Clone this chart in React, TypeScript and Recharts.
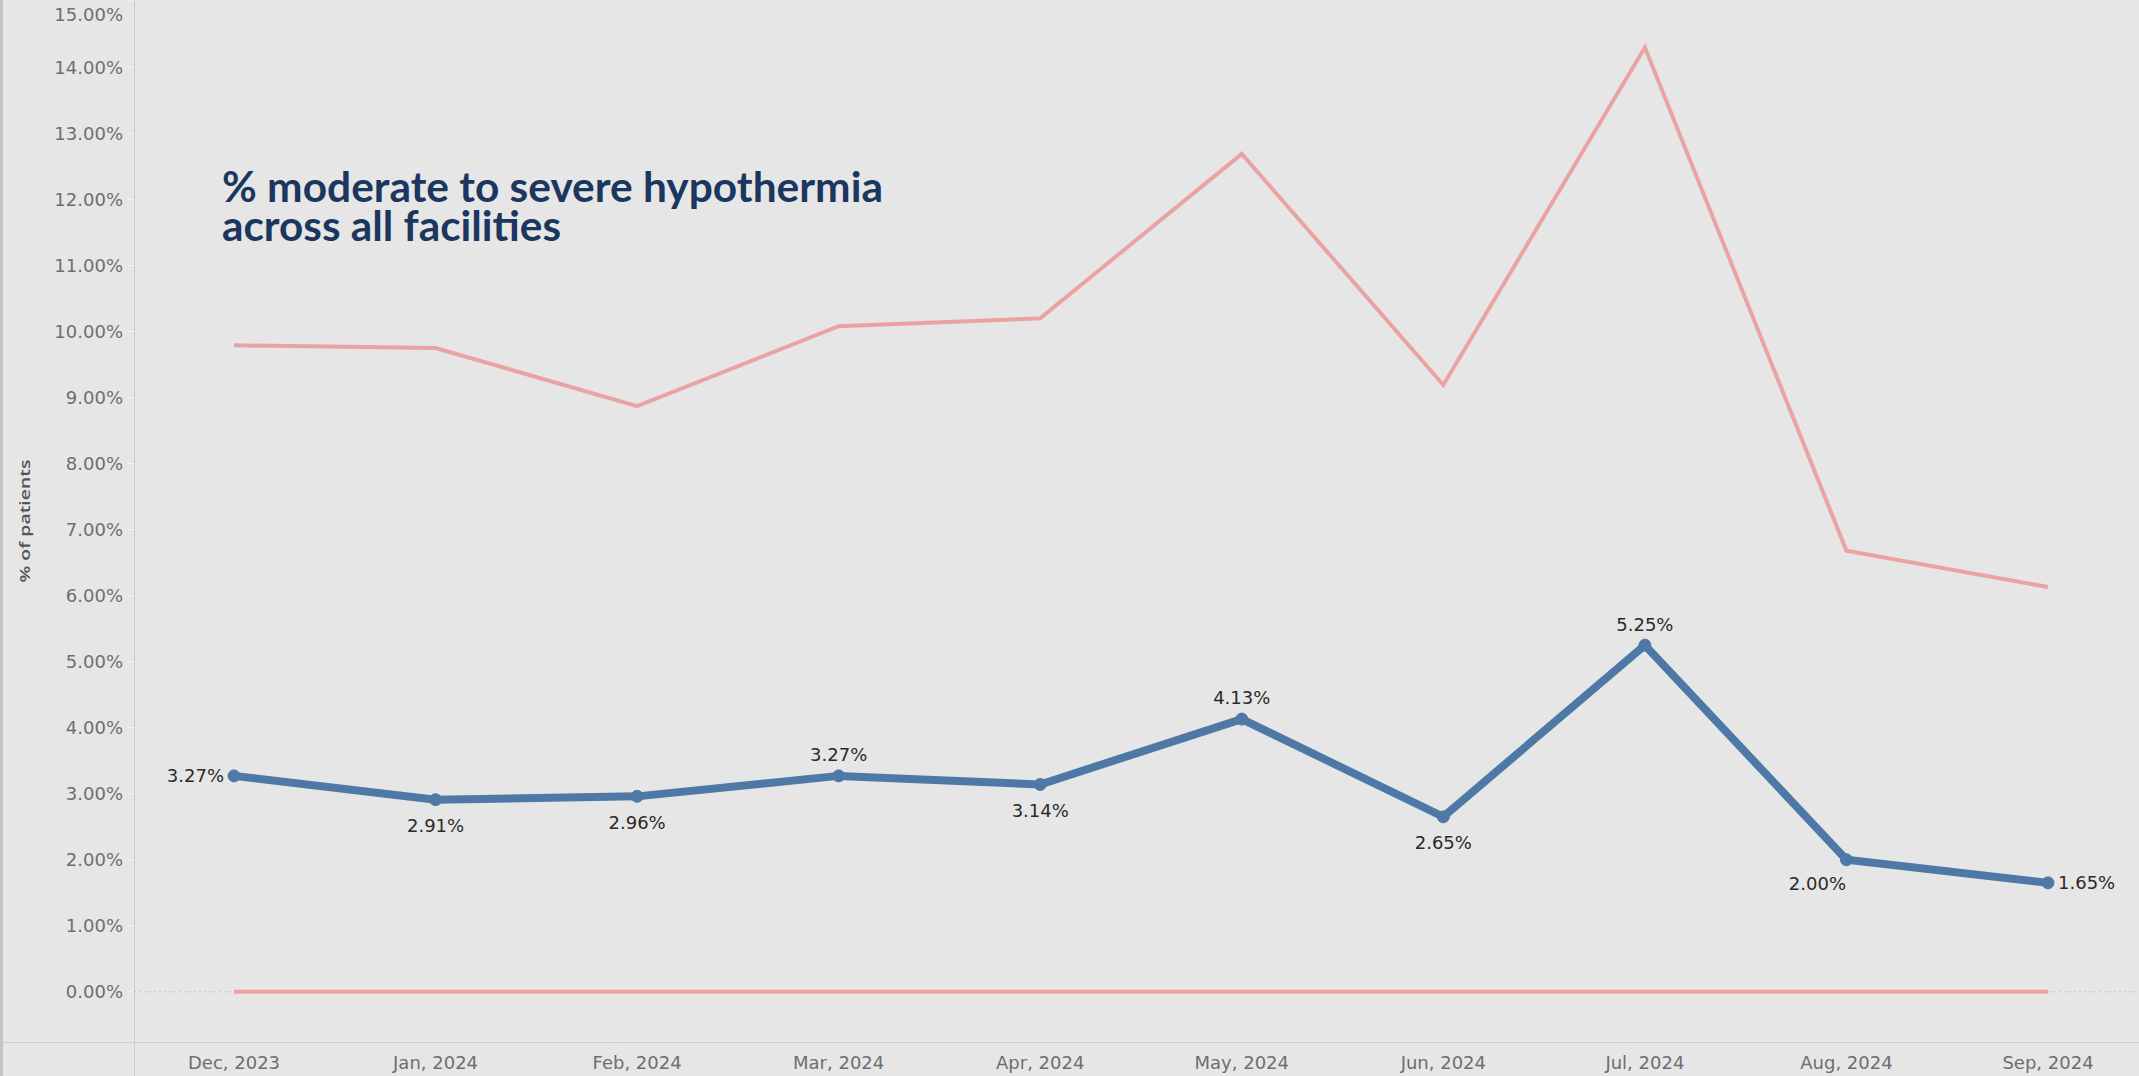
import React from 'react';
import { LineChart, Line, XAxis, YAxis, ReferenceLine, LabelList } from 'recharts';

const months = ['Dec, 2023', 'Jan, 2024', 'Feb, 2024', 'Mar, 2024', 'Apr, 2024', 'May, 2024', 'Jun, 2024', 'Jul, 2024', 'Aug, 2024', 'Sep, 2024'];
const avgPct = [3.27, 2.91, 2.96, 3.27, 3.14, 4.13, 2.65, 5.25, 2.0, 1.65];
const maxPct = [9.79, 9.75, 8.87, 10.08, 10.2, 12.69, 9.19, 14.3, 6.68, 6.13];
const minPct = [0, 0, 0, 0, 0, 0, 0, 0, 0, 0];
const yTicks = [0, 1, 2, 3, 4, 5, 6, 7, 8, 9, 10, 11, 12, 13, 14, 15];
const labelPlacement = ['left', 'below', 'below', 'above', 'below', 'above', 'below', 'above', 'belowLeft', 'right'];

const data = months.map((m, i) => ({ month: m, avg: avgPct[i], max: maxPct[i], min: minPct[i] }));

const BG = '#e6e6e6';
const BLUE = '#4e79a7';
const PINK = '#eaa3a3';
const FONT = '"DejaVu Sans", sans-serif';

const YTick = (props: any) => {
  const { x, y, payload } = props;
  return (
    <text x={x} y={Math.max(y, 15)} dy="0.355em" textAnchor="end" fontFamily={FONT} fontSize={18} fill="#6e6e6e">
      {`${Number(payload.value).toFixed(2)}%`}
    </text>
  );
};

const XTick = (props: any) => {
  const { x, y, payload } = props;
  return (
    <text x={x} y={y} dy="0.71em" textAnchor="middle" fontFamily={FONT} fontSize={18} fill="#6e6e6e">
      {payload.value}
    </text>
  );
};

const PointLabel = (props: any) => {
  const { x, y, value, index } = props;
  const place = labelPlacement[index] || 'above';
  let tx = x;
  let ty = y;
  let anchor: any = 'middle';
  if (place === 'left') { tx = x - 10; anchor = 'end'; }
  else if (place === 'right') { tx = x + 10; anchor = 'start'; }
  else if (place === 'above') { ty = y - 21; }
  else if (place === 'below') { ty = y + 26; }
  else if (place === 'belowLeft') { tx = x - 29; ty = y + 24; }
  return (
    <text x={tx} y={ty} dy="0.355em" textAnchor={anchor} fontFamily={FONT} fontSize={18} fill="#2a2a2a">
      {`${Number(value).toFixed(2)}%`}
    </text>
  );
};

export default function App() {
  return (
    <div style={{ position: 'absolute', left: 0, top: 0, width: 2139, height: 1076, background: BG, overflow: 'hidden' }}>
      <div style={{ position: 'absolute', left: 0, top: 0, width: 3, height: 1076, background: '#c4c4c4' }} />
      <div style={{ position: 'absolute', left: 134, top: 0, width: 1, height: 1076, background: '#cdcdcd' }} />
      <div style={{ position: 'absolute', left: 3, top: 1042, width: 2136, height: 1, background: '#cdcdcd' }} />
      <div style={{ position: 'absolute', left: 0, top: 0 }}>
        <LineChart width={2149} height={1076} data={data} margin={{ top: 0, right: 0, bottom: 0, left: 0 }}>
          <XAxis
            dataKey="month"
            height={34}
            axisLine={false}
            tickLine={false}
            tickMargin={8}
            tick={<XTick />}
            interval={0}
            padding={{ left: 100, right: 101 }}
          />
          <YAxis
            width={134}
            domain={[-0.76, 15.02]}
            ticks={yTicks}
            allowDataOverflow
            axisLine={false}
            tickLine={{ stroke: '#f7f7f7', strokeWidth: 1 }}
            tickSize={6}
            tickMargin={5}
            tick={<YTick />}
            interval={0}
          />
          <ReferenceLine y={0} stroke="#c2c2c2" strokeDasharray="2 3" strokeWidth={1} />
          <Line type="linear" dataKey="max" stroke={PINK} strokeWidth={4} dot={false} activeDot={false} isAnimationActive={false} />
          <Line type="linear" dataKey="min" stroke={PINK} strokeWidth={4} dot={false} activeDot={false} isAnimationActive={false} />
          <Line
            type="linear"
            dataKey="avg"
            stroke={BLUE}
            strokeWidth={8}
            dot={{ r: 6, fill: BLUE, stroke: BLUE, strokeWidth: 1 }}
            activeDot={false}
            isAnimationActive={false}
          >
            <LabelList dataKey="avg" content={<PointLabel />} />
          </Line>
        </LineChart>
      </div>
      <svg width={2139} height={1076} style={{ position: 'absolute', left: 0, top: 0, pointerEvents: 'none' }}>
        <text fontFamily="Lato, sans-serif" fontWeight={700} fontSize={42} fill="#1b365f">
          <tspan x={222} y={202} textLength={661} lengthAdjust="spacingAndGlyphs">% moderate to severe hypothermia</tspan>
          <tspan x={222} y={241} textLength={339} lengthAdjust="spacingAndGlyphs">across all facilities</tspan>
        </text>
        <text
          x={0}
          y={0}
          transform="translate(30, 521) rotate(-90)"
          textAnchor="middle"
          fontFamily='"Open Sans", sans-serif'
          fontWeight={600}
          fontSize={15}
          fill="#555555"
          textLength={123}
          lengthAdjust="spacingAndGlyphs"
        >
          % of patients
        </text>
      </svg>
    </div>
  );
}
